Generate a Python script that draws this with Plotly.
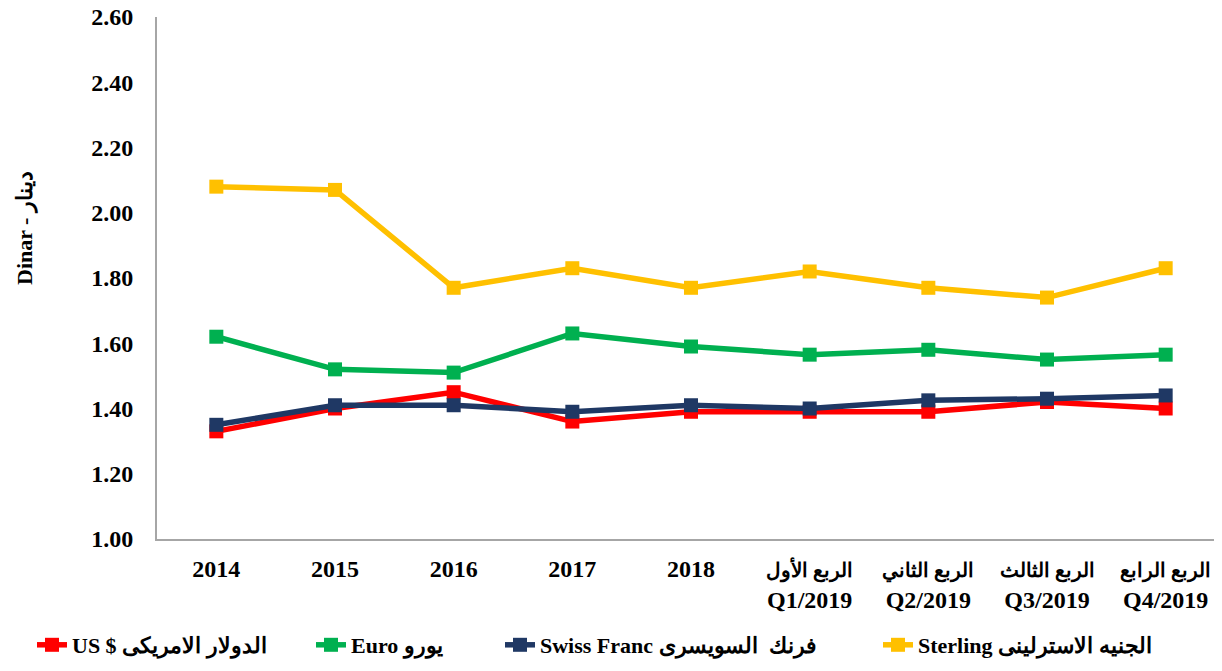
import plotly.graph_objects as go

AR = '<span style="font-size:20px">{}</span>'
categories = ["2014", "2015", "2016", "2017", "2018",
              AR.format("الربع الأول") + "<br>Q1/2019",
              AR.format("الربع الثاني") + "<br>Q2/2019",
              AR.format("الربع الثالث") + "<br>Q3/2019",
              AR.format("الربع الرابع") + "<br>Q4/2019"]

usd = [1.33, 1.40, 1.45, 1.36, 1.39, 1.39, 1.39, 1.42, 1.40]
euro = [1.62, 1.52, 1.51, 1.63, 1.59, 1.565, 1.58, 1.55, 1.565]
swiss = [1.35, 1.41, 1.41, 1.39, 1.41, 1.40, 1.425, 1.43, 1.44]
sterling = [2.08, 2.07, 1.77, 1.83, 1.77, 1.82, 1.77, 1.74, 1.83]

series_names = ["US $ الدولار الامريكى", "Euro يورو",
                "Swiss Franc فرنك  السويسرى", "Sterling الجنيه الاسترلينى"]
series_values = [usd, euro, swiss, sterling]
colors = ["#FF0000", "#00B050", "#1F3864", "#FFC000"]

y_ticks = [1.0, 1.2, 1.4, 1.6, 1.8, 2.0, 2.2, 2.4, 2.6]

FONT = "Liberation Serif, Times New Roman, DejaVu Serif, serif"

W, H = 1222, 671
OFF = 8  # page body margin offset
legend_ids = ["legend", "legend2", "legend3", "legend4"]
legend_text_x = [78, 357, 546, 924]

fig = go.Figure()
for name, vals, col, lid in zip(series_names, series_values, colors, legend_ids):
    fig.add_trace(go.Scatter(
        x=list(range(len(categories))), y=vals, name=name, mode="lines+markers",
        line=dict(color=col, width=5.5),
        marker=dict(symbol="square", size=14, color=col),
        legend=lid,
    ))

legend_layout = {}
for lid, tx in zip(legend_ids, legend_text_x):
    legend_layout[lid] = dict(
        orientation="h", xref="container", yref="container",
        x=(tx - 46 - OFF) / W, xanchor="left", y=1 - (645 - OFF) / H, yanchor="middle",
        font=dict(family=FONT, size=22, color="black", weight="bold"),
        bgcolor="rgba(0,0,0,0)",
    )

plot_left, plot_right, plot_top, plot_bottom = 157 - OFF, 1225 - OFF, 17 - OFF, 539 - OFF

fig.update_layout(
    width=W, height=H,
    margin=dict(l=plot_left, r=W - plot_right, t=plot_top, b=H - plot_bottom),
    paper_bgcolor="white", plot_bgcolor="white",
    font=dict(family=FONT, color="black", size=24),
    showlegend=True,
    xaxis=dict(
        range=[-0.5, 8.5], tickmode="array",
        tickvals=list(range(len(categories))), ticktext=categories,
        showgrid=False, zeroline=False, showline=True, linecolor="#A6A6A6", linewidth=2,
        ticks="", tickfont=dict(family=FONT, size=24, color="black", weight="bold"),
        ticklabelstandoff=7, automargin=False, ticklabeloverflow="allow",
    ),
    yaxis=dict(
        range=[1.0, 2.6], tickmode="array", tickvals=y_ticks,
        ticktext=[f"{v:.2f}" for v in y_ticks],
        showgrid=False, zeroline=False, showline=True, linecolor="#A6A6A6", linewidth=2,
        ticks="", tickfont=dict(family=FONT, size=24, color="black", weight="bold"),
        ticklabelstandoff=17, automargin=False, ticklabeloverflow="allow",
    ),
    annotations=[dict(
        text="<b>Dinar - دينار</b>", textangle=-90, showarrow=False,
        xref="paper", yref="paper",
        x=(25 - 157) / (1225 - 157), y=(539 - 228) / (539 - 17),
        xanchor="center", yanchor="middle",
        font=dict(family=FONT, size=22, color="black"),
    )],
    **legend_layout,
)

fig.write_html("out.html")
